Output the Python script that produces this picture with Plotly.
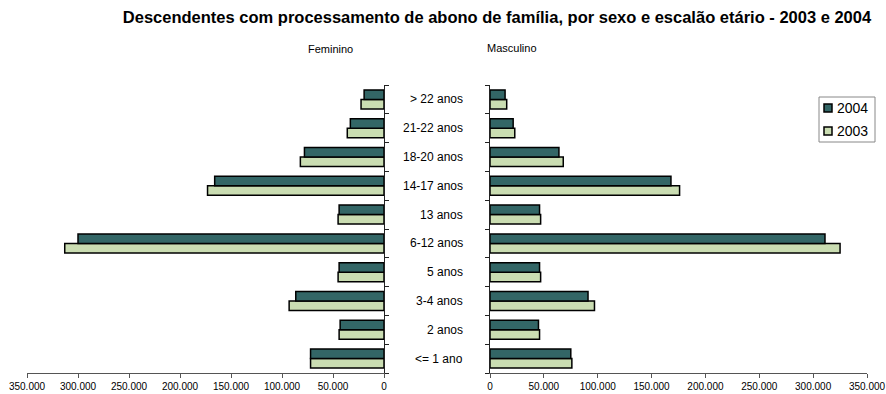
import plotly.graph_objects as go

# Age groups, bottom to top
categories = ["<= 1 ano", "2 anos", "3-4 anos", "5 anos", "6-12 anos",
              "13 anos", "14-17 anos", "18-20 anos", "21-22 anos", "> 22 anos"]

# Feminino
fem_2004 = [72000, 43000, 86500, 44000, 300000, 44000, 166000, 78000, 33000, 19500]
fem_2003 = [72000, 44000, 93000, 45000, 313000, 45000, 173000, 82000, 36000, 22500]

# Masculino
masc_2004 = [75000, 45000, 91000, 46000, 311000, 46000, 168000, 64000, 21500, 14000]
masc_2003 = [76000, 46000, 97000, 47000, 325000, 47000, 176000, 68000, 23000, 15500]

x_ticks = [0, 50000, 100000, 150000, 200000, 250000, 300000, 350000]
series_names = ["2004", "2003"]

DARK = "#336666"
LIGHT = "#CADDB2"
BLACK = "#000000"
FONT = "Liberation Sans, Arial, sans-serif"
W, H = 886, 394


def px(x):
    return x / W


def py(y):
    return 1 - y / H


fig = go.Figure()


def bar(vals, name, color, xa, ya):
    return go.Bar(
        y=categories, x=vals, orientation="h", name=name,
        marker=dict(color=color, line=dict(color=BLACK, width=1.5)),
        xaxis=xa, yaxis=ya, showlegend=False,
    )


fig.add_trace(bar(fem_2003, "2003", LIGHT, "x", "y"))
fig.add_trace(bar(fem_2004, "2004", DARK, "x", "y"))
fig.add_trace(bar(masc_2003, "2003", LIGHT, "x2", "y2"))
fig.add_trace(bar(masc_2004, "2004", DARK, "x2", "y2"))

y_dom = [21 / H, 1 - 85 / H]
axis_common = dict(
    showgrid=False, zeroline=False, showline=True, linecolor="#555555",
    linewidth=1, ticks="outside", ticklen=4, tickcolor="#555555",
    tickvals=x_ticks, tickformat=",d",
    tickfont=dict(family=FONT, size=10, color=BLACK),
)
yaxis_common = dict(
    type="category", range=[-0.5, 9.5], domain=y_dom,
    showgrid=False, zeroline=False, showline=True, linecolor="#222222",
    linewidth=1, ticks="outside", ticklen=4, tickcolor="#222222",
    tickson="boundaries", showticklabels=False,
)

fig.update_layout(
    width=W, height=H,
    margin=dict(l=0, r=0, t=0, b=0, autoexpand=False),
    paper_bgcolor="white", plot_bgcolor="white",
    separators=",.",
    barmode="group", bargap=0.34, bargroupgap=0.0,
    font=dict(family=FONT, color=BLACK),
    showlegend=False,
    xaxis=dict(domain=[px(27), px(384)], range=[350000, 0], anchor="y", **axis_common),
    xaxis2=dict(domain=[px(490), px(867)], range=[0, 350000], anchor="y2", **axis_common),
    yaxis=dict(anchor="x", side="right", **yaxis_common),
    yaxis2=dict(anchor="x2", side="left", **yaxis_common),
    title=dict(
        text="<b>Descendentes com processamento de abono de família, por sexo e escalão etário - 2003 e 2004</b>",
        x=px(497), xanchor="center", y=py(17), yanchor="middle", yref="container",
        font=dict(family=FONT, size=16.5, color=BLACK),
    ),
)

annotations = [
    dict(text="Feminino", x=px(330), y=py(49), xref="paper", yref="paper",
         showarrow=False, xanchor="center", yanchor="middle",
         font=dict(family=FONT, size=11, color=BLACK)),
    dict(text="Masculino", x=px(512), y=py(48), xref="paper", yref="paper",
         showarrow=False, xanchor="center", yanchor="middle",
         font=dict(family=FONT, size=11, color=BLACK)),
]
for c in categories:
    annotations.append(dict(
        text=c, x=px(465), y=c, xref="paper", yref="y2", showarrow=False,
        xanchor="right", yanchor="middle", font=dict(family=FONT, size=12, color=BLACK),
    ))

# Legend box with colour keys
shapes = [dict(type="rect", xref="paper", yref="paper",
               x0=px(819), x1=px(875), y0=py(142), y1=py(97),
               line=dict(color="#888888", width=1), fillcolor="white")]
for name, color, yc in zip(series_names, [DARK, LIGHT], [108, 131]):
    shapes.append(dict(type="rect", xref="paper", yref="paper",
                       x0=px(824), x1=px(832), y0=py(yc + 4), y1=py(yc - 4),
                       line=dict(color=BLACK, width=1.5), fillcolor=color))
    annotations.append(dict(text=name, x=px(835), y=py(yc), xref="paper", yref="paper",
                            showarrow=False, xanchor="left", yanchor="middle",
                            font=dict(family=FONT, size=14, color=BLACK)))

fig.update_layout(annotations=annotations, shapes=shapes)

fig.write_html("out.html")
